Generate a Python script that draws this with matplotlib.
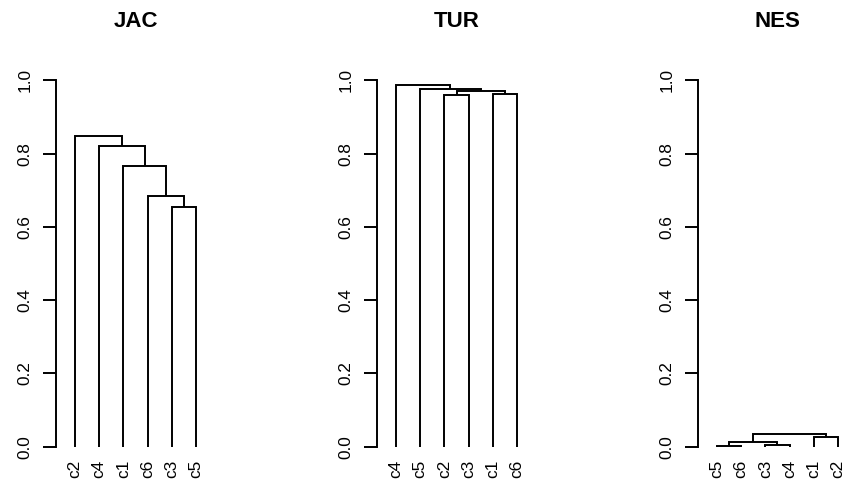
import matplotlib
matplotlib.use("Agg")
import matplotlib.pyplot as plt

plt.rcParams['font.family'] = ['Liberation Sans', 'DejaVu Sans']

# ---- data ----
titles = ["JAC", "TUR", "NES"]

jac_leaves = ["c2", "c4", "c1", "c6", "c3", "c5"]
jac_merges = [("c3", "c5", 0.653), ("c6", "m1", 0.684), ("c1", "m2", 0.765),
              ("c4", "m3", 0.820), ("c2", "m4", 0.848)]

tur_leaves = ["c4", "c5", "c2", "c3", "c1", "c6"]
tur_merges = [("c2", "c3", 0.959), ("c1", "c6", 0.963), ("m1", "m2", 0.970),
              ("c5", "m3", 0.977), ("c4", "m4", 0.987)]

nes_leaves = ["c5", "c6", "c3", "c4", "c1", "c2"]
nes_merges = [("c5", "c6", 0.001), ("c3", "c4", 0.004), ("m1", "m2", 0.013),
              ("c1", "c2", 0.026), ("m3", "m4", 0.034)]

yticks = [0.0, 0.2, 0.4, 0.6, 0.8, 1.0]
ytick_labels = ["0.0", "0.2", "0.4", "0.6", "0.8", "1.0"]

panels = [(jac_leaves, jac_merges), (tur_leaves, tur_merges), (nes_leaves, nes_merges)]

# ---- layout (pixels) ----
W, H = 843, 482
fig = plt.figure(figsize=(W / 100, H / 100), dpi=100)
spacing = 24.2
xlim = (0.2, 6.8)
ylim = (-0.04, 1.04)
y0_px, y1_px = 446.7, 80.3
unit = y0_px - y1_px
top_px = y1_px - 0.04 * unit
bot_px = y0_px + 0.04 * unit
leaf1_px = [75.0, 396.0, 717.0]
lw = 1.4

for i, (leaves, merges) in enumerate(panels):
    left_px = leaf1_px[i] - (1 - xlim[0]) * spacing
    width_px = (xlim[1] - xlim[0]) * spacing
    ax = fig.add_axes([left_px / W, (H - bot_px) / H, width_px / W, (bot_px - top_px) / H])
    ax.set_xlim(*xlim)
    ax.set_ylim(*ylim)

    pos = {name: (k + 1, 0.0) for k, name in enumerate(leaves)}
    for j, (a, b, h) in enumerate(merges):
        xa, ha = pos[a]
        xb, hb = pos[b]
        ax.plot([xa, xa, xb, xb], [ha, h, h, hb], color="black", lw=lw,
                solid_joinstyle="miter", solid_capstyle="butt", clip_on=False)
        pos["m%d" % (j + 1)] = ((xa + xb) / 2, h)

    for k, name in enumerate(leaves):
        ax.annotate(name, xy=(k + 1, 0), xytext=(0, -9.5), textcoords="offset points",
                    rotation=90, ha="center", va="top", fontsize=12.4,
                    annotation_clip=False)

    for s in ["top", "right", "bottom"]:
        ax.spines[s].set_visible(False)
    ax.spines["left"].set_bounds(0, 1)
    ax.spines["left"].set_linewidth(lw)
    ax.set_xticks([])
    ax.set_yticks(yticks)
    ax.set_yticklabels(ytick_labels, rotation=90, va="center")
    ax.tick_params(axis="y", length=9.3, width=lw, pad=7.5, labelsize=12.4)

    cx = (left_px + width_px / 2) / W
    fig.text(cx, 1 - 27.3 / H, titles[i], ha="center", va="baseline",
             fontsize=16, fontweight="bold")

fig.savefig("out.png", dpi=100)
